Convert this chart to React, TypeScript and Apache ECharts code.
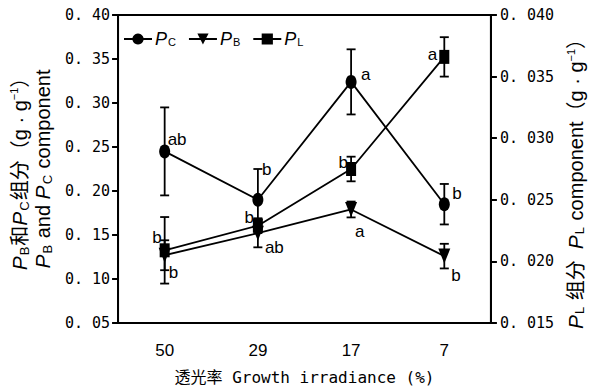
import React, { useEffect, useRef } from 'react';
import * as echarts from 'echarts';

const categories = ['50', '29', '17', '7'];
const pcValues = [0.245, 0.19, 0.324, 0.185];
const pcErrors = [0.05, 0.035, 0.037, 0.023];
const pbValues = [0.127, 0.152, 0.179, 0.126];
const pbErrors = [0.017, 0.016, 0.009, 0.014];
const plValues = [0.0209, 0.0229, 0.0275, 0.0366];
const plErrors = [0.0027, 0.0006, 0.001, 0.0016];
const pcLetters = ['ab', 'b', 'a', 'b'];
const pbLetters = ['b', 'ab', 'a', 'b'];
const plLetters = ['b', 'b', 'b', 'a'];

const pcOffsets = [[3, -12], [4, -30], [10, -7], [8, -11]];
const pbOffsets = [[4, 17], [7, 14], [4, 22], [7, 19]];
const plOffsets = [[-3, -13], [-4, -8], [-3, -7], [-7, -2]];

const MONO = "'DejaVu Sans Mono', 'Noto Sans CJK SC', monospace";
const SANS = "'Liberation Sans', Arial, 'Noto Sans CJK SC', sans-serif";

const legendRich = {
  i: { fontFamily: SANS, fontStyle: 'italic', fontSize: 18, color: '#000' },
  s: { fontFamily: SANS, fontSize: 11, color: '#000', verticalAlign: 'bottom', padding: [7, 0, 0, 1] },
};

const nameRich = {
  i: { fontFamily: SANS, fontStyle: 'italic', fontSize: 21, color: '#000' },
  s: { fontFamily: SANS, fontSize: 13, color: '#000', verticalAlign: 'bottom', padding: [8, 1, 0, 1] },
  sup: { fontFamily: SANS, fontSize: 11, color: '#000', verticalAlign: 'top', padding: [0, 0, 8, 0] },
  t: { fontFamily: SANS, fontSize: 20, color: '#000' },
};

function errorSeries(values: number[], errors: number[], yAxisIndex: number) {
  return {
    type: 'custom',
    yAxisIndex,
    silent: true,
    z: 1,
    data: values.map((v, i) => [i, v - errors[i], v + errors[i]]),
    renderItem: (params: any, api: any) => {
      const lo = api.coord([api.value(0), api.value(1)]);
      const hi = api.coord([api.value(0), api.value(2)]);
      const hw = 4.5;
      const style = { stroke: '#000', lineWidth: 1.8 };
      return {
        type: 'group',
        children: [
          { type: 'line', shape: { x1: lo[0], y1: lo[1], x2: hi[0], y2: hi[1] }, style },
          { type: 'line', shape: { x1: lo[0] - hw, y1: lo[1], x2: lo[0] + hw, y2: lo[1] }, style },
          { type: 'line', shape: { x1: hi[0] - hw, y1: hi[1], x2: hi[0] + hw, y2: hi[1] }, style },
        ],
      };
    },
  };
}

function lineData(values: number[], letters: string[], offsets: number[][], align: string) {
  return values.map((v, i) => ({
    value: v,
    label: { show: true, formatter: letters[i], offset: offsets[i], align },
  }));
}

export default function App() {
  const ref = useRef<HTMLDivElement>(null);
  useEffect(() => {
    document.body.style.margin = '0';
    const chart = echarts.init(ref.current!, null, { renderer: 'svg' });
    const labelBase = {
      position: 'inside',
      verticalAlign: 'middle',
      color: '#000',
      fontFamily: SANS,
      fontSize: 17,
    };
    const lineBase = {
      type: 'line',
      lineStyle: { color: '#000', width: 1.8 },
      itemStyle: { color: '#000' },
      z: 3,
    };
    chart.setOption({
      animation: false,
      grid: {
        left: 115,
        right: 90,
        top: 15,
        bottom: 69,
        show: true,
        borderColor: '#000',
        borderWidth: 2,
        backgroundColor: 'transparent',
      },
      legend: {
        left: 118,
        top: 25,
        itemWidth: 28,
        itemHeight: 14,
        itemGap: 12,
        data: ['PC', 'PB', 'PL'],
        formatter: (name: string) => `{i|P}{s|${name.slice(1)}}`,
        textStyle: { rich: legendRich, padding: [0, 0, 0, -2] },
      },
      xAxis: {
        type: 'category',
        data: categories,
        boundaryGap: true,
        axisLine: { lineStyle: { color: '#000', width: 2 } },
        axisTick: { alignWithLabel: true, length: 6, lineStyle: { color: '#000', width: 2 } },
        axisLabel: { color: '#000', fontFamily: SANS, fontSize: 17, margin: 19 },
        name: '透光率 Growth irradiance (%)',
        nameLocation: 'middle',
        nameGap: 46,
        nameTextStyle: { color: '#000', fontFamily: MONO, fontSize: 16 },
      },
      yAxis: [
        {
          type: 'value',
          position: 'left',
          min: 0.05,
          max: 0.4,
          interval: 0.05,
          splitLine: { show: false },
          axisLine: { show: true, lineStyle: { color: '#000', width: 2 } },
          axisTick: { show: true, length: 6, lineStyle: { color: '#000', width: 2 } },
          axisLabel: {
            color: '#000',
            fontFamily: MONO,
            fontSize: 15,
            margin: 8,
            formatter: (v: number) => v.toFixed(2).replace('.', '. '),
          },
          name:
            '{i|P}{s|B}{t|和}{i|P}{s|C}{t|组分（g · g}{sup|−1}{t|）}\n{i|P}{s|B}{t| and }{i|P}{s|C}{t| component}',
          nameLocation: 'middle',
          nameRotate: 90,
          nameGap: 60,
          nameTextStyle: { color: '#000', fontFamily: SANS, fontSize: 20, lineHeight: 23, rich: nameRich },
        },
        {
          type: 'value',
          position: 'right',
          min: 0.015,
          max: 0.04,
          interval: 0.005,
          splitLine: { show: false },
          axisLine: { show: true, lineStyle: { color: '#000', width: 2 } },
          axisTick: { show: true, length: 6, lineStyle: { color: '#000', width: 2 } },
          axisLabel: {
            color: '#000',
            fontFamily: MONO,
            fontSize: 15,
            margin: 9,
            formatter: (v: number) => v.toFixed(3).replace('.', '. '),
          },
          name: '{i|P}{s|L}{t| 组分  }{i|P}{s|L}{t| component（g · g}{sup|−1}{t|）}',
          nameLocation: 'middle',
          nameRotate: 90,
          nameGap: 64,
          nameTextStyle: { color: '#000', fontFamily: SANS, fontSize: 20, rich: nameRich, padding: [0, 20, 0, 0] },
        },
      ],
      series: [
        errorSeries(pcValues, pcErrors, 0),
        errorSeries(pbValues, pbErrors, 0),
        errorSeries(plValues, plErrors, 1),
        {
          ...lineBase,
          name: 'PC',
          yAxisIndex: 0,
          symbol: 'circle',
          symbolSize: [11, 14],
          label: { ...labelBase },
          data: lineData(pcValues, pcLetters, pcOffsets, 'left'),
        },
        {
          ...lineBase,
          name: 'PB',
          yAxisIndex: 0,
          symbol: 'triangle',
          symbolRotate: 180,
          symbolSize: [12, 15],
          label: { ...labelBase },
          data: lineData(pbValues, pbLetters, pbOffsets, 'left'),
        },
        {
          ...lineBase,
          name: 'PL',
          yAxisIndex: 1,
          symbol: 'rect',
          symbolSize: [10, 14],
          label: { ...labelBase },
          data: lineData(plValues, plLetters, plOffsets, 'right'),
        },
      ],
    });
    return () => chart.dispose();
  }, []);
  return <div ref={ref} style={{ width: 594, height: 392 }} />;
}
